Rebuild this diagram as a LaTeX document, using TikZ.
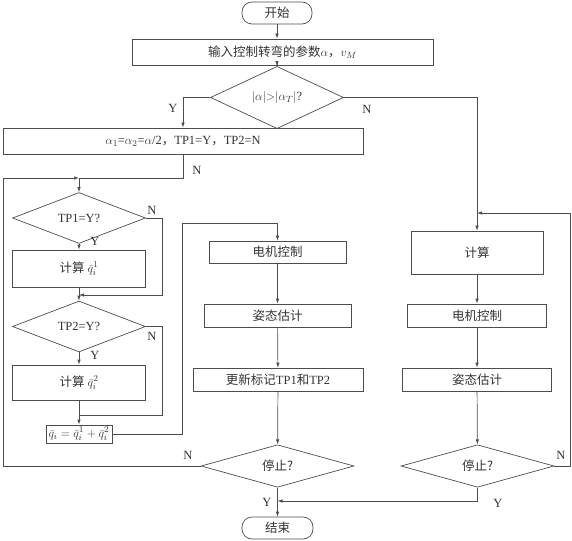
\documentclass[tikz,border=0pt]{standalone}
\usepackage{fontspec}
\usepackage{amsmath}
\setmainfont{Liberation Serif}
\newfontfamily\cjk{Noto Sans CJK SC}
\usepackage{tikz}
\usetikzlibrary{shapes.geometric, arrows.meta}
\definecolor{flowline}{gray}{0.30}
\definecolor{flowtext}{gray}{0.20}

\tikzset{
	box/.style={draw=flowline, line width=0.7pt, rectangle, inner sep=1pt,
		text=flowtext, font=\fontsize{12.5}{15}\selectfont},
	term/.style={box, rounded corners=10pt},
	decision/.style={box, diamond, inner sep=0pt},
	lbl/.style={text=flowtext, inner sep=0pt, font=\fontsize{12.5}{15}\selectfont},
	line/.style={draw=flowline, line width=0.7pt},
	arrow/.style={line, -{Latex[length=5pt, width=3.5pt]}}
}

\begin{document}
\begin{tikzpicture}[x=1pt, y=-1pt]
			\useasboundingbox (0,0) rectangle (572,540);

			% main column
			\node[term, minimum width=70pt, minimum height=22pt] (start) at (277,13) {\cjk 开始};
			\node[box, minimum width=301pt, minimum height=26pt] (input) at (282.5,52)
				{{\cjk 输入控制转弯的参数}$\alpha${\cjk ，}$v_M$};
			\node[decision, minimum width=133pt, minimum height=35pt] (cond) at (277,97.5)
				{$|\alpha|{>}|\alpha_T|$?};
			\node[box, minimum width=360pt, minimum height=26pt] (init) at (183,141)
				{$\alpha_1$=$\alpha_2$=$\alpha$/2{\cjk ，}TP1=Y{\cjk ，}TP2=N};

			% left column: TP1 / TP2
			\node[decision, minimum width=133pt, minimum height=34pt] (tp1) at (79,218) {TP1=Y?};
			\node[box, minimum width=133pt, minimum height=37pt] (calc1) at (79,268.5)
				{{\cjk 计算} $\bar{q}_i^1$};
			\node[decision, minimum width=133pt, minimum height=35pt] (tp2) at (79,326.5) {TP2=Y?};
			\node[box, minimum width=133pt, minimum height=35pt] (calc2) at (79,382.5)
				{{\cjk 计算} $\bar{q}_i^2$};
			\node[box, minimum width=66pt, minimum height=18pt, inner sep=0.5pt] (qsum) at (79,434)
				{$\bar{q}_i=\bar{q}_i^1+\bar{q}_i^2$};

			% middle column
			\node[box, minimum width=137pt, minimum height=22pt] (motor1) at (277.5,252) {\cjk 电机控制};
			\node[box, minimum width=147pt, minimum height=23pt] (att1) at (277.5,315.5) {\cjk 姿态估计};
			\node[box, minimum width=170pt, minimum height=23pt] (update) at (278,379.5)
				{{\cjk 更新标记}TP1{\cjk 和}TP2};
			\node[decision, minimum width=153pt, minimum height=42pt] (stop1) at (277.5,466) {\cjk 停止?};
			\node[term, minimum width=71pt, minimum height=22pt] (finish) at (277.5,528) {\cjk 结束};

			% right column
			\node[box, minimum width=132pt, minimum height=43pt] (calc) at (477,252.5) {\cjk 计算};
			\node[box, minimum width=139pt, minimum height=23pt] (motor2) at (477,315.5) {\cjk 电机控制};
			\node[box, minimum width=149pt, minimum height=23pt] (att2) at (477,379.5) {\cjk 姿态估计};
			\node[decision, minimum width=153pt, minimum height=41pt] (stop2) at (477.5,466) {\cjk 停止?};

			% junctions
			\coordinate (j1) at (79,178);
			\coordinate (j2) at (79,295);
			\coordinate (j3) at (79,415);
			\coordinate (j4) at (277.5,501);
			\coordinate (j5) at (477,213);
			\coordinate (loopL) at (3,178);
			\coordinate (loopM) at (182,223);
			\coordinate (loopR) at (570,213);

			% connectors
			\draw[arrow] (start.south) -- (start.south |- input.north);
			\draw[arrow] (cond.north |- input.south) -- (cond.north);
			\draw[arrow] (cond.west) -| (init.north);
			\draw[arrow] (cond.east) -| (calc.north);
			\draw[line] (init.south) |- (j1);
			\draw[arrow] (stop1.west) -| (loopL) -- (j1);
			\draw[arrow] (j1) -- (tp1.north);
			\draw[arrow] (tp1.south) -- (calc1.north);
			\draw[arrow] (tp1.east) -- ++(16,0) |- (j2);
			\draw[line] (calc1.south) -- (j2);
			\draw[arrow] (j2) -- (tp2.north);
			\draw[arrow] (tp2.south) -- (calc2.north);
			\draw[line] (tp2.east) -- ++(16,0) |- (j3);
			\draw[line] (calc2.south) -- (j3);
			\draw[arrow] (j3) -- (qsum.north);
			\draw[arrow] (qsum.east) -| (loopM) -| (motor1.north);
			\draw[arrow] (motor1) -- (att1);
			\draw[arrow] (att1) -- (update);
			\draw[arrow] (update) -- (stop1);
			\draw[arrow] (stop1) -- (finish);
			\draw[arrow] (stop2.south) |- (j4);
			\draw[arrow] (calc) -- (motor2);
			\draw[arrow] (motor2) -- (att2);
			\draw[arrow] (att2) -- (stop2);
			\draw[arrow] (stop2.east) -| (loopR) -- (j5);

			% branch labels
			\node[lbl] (yA) at (173,108) {Y};
			\node[lbl] (nA) at (367,109) {N};
			\node[lbl] (nB) at (197,170) {N};
			\node[lbl] (nC) at (152,210) {N};
			\node[lbl] (yB) at (95,241) {Y};
			\node[lbl] (nD) at (152,336) {N};
			\node[lbl] (yC) at (95,355) {Y};
			\node[lbl] (nE) at (188,455) {N};
			\node[lbl] (yD) at (267,502) {Y};
			\node[lbl] (yE) at (498,503) {Y};
			\node[lbl] (nF) at (561,455) {N};

		\end{tikzpicture}
\end{document}
